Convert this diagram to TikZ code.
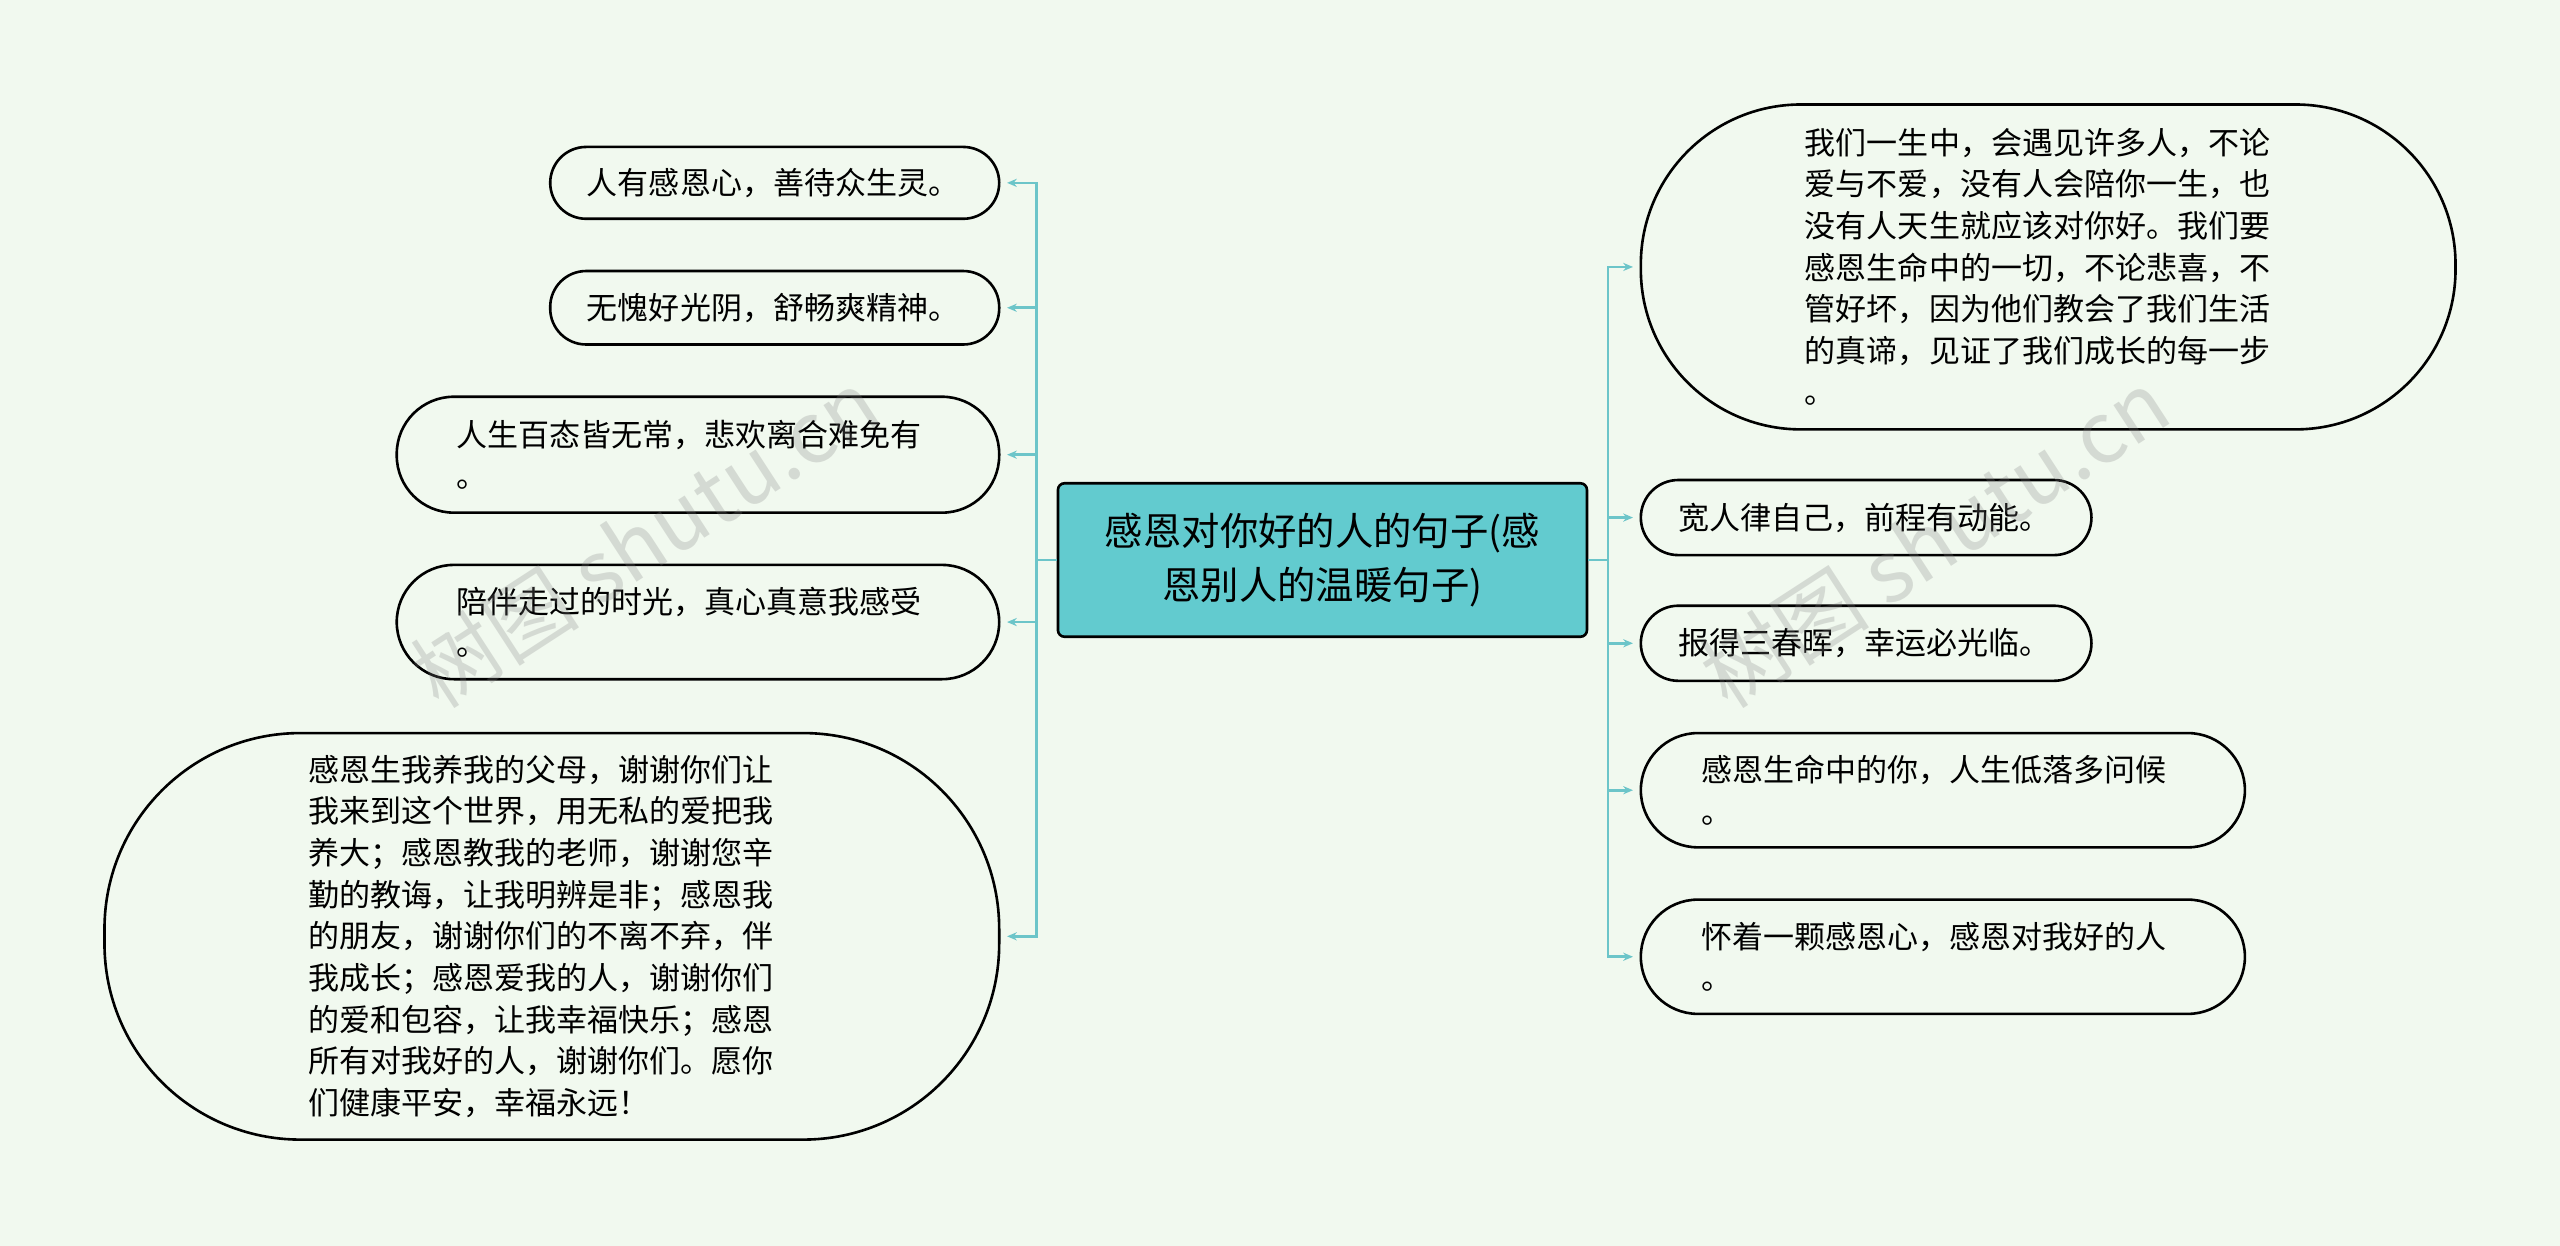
\documentclass[tikz,border=0pt]{standalone}
\usepackage{fontspec}
\setmainfont{Noto Sans CJK SC}
\usetikzlibrary{arrows.meta}
\definecolor{bg}{HTML}{F1F9EF}
\definecolor{edge}{HTML}{6CC5C9}
\definecolor{cfill}{HTML}{62CBCF}
\tikzset{
 leaf/.style={draw=black,line width=1.6pt,fill=bg,align=left,inner sep=0pt,font=\fontsize{19}{25.5}\selectfont},
 conn/.style={draw=edge,line width=1.6pt},
 arr/.style={conn,-{Stealth[length=6pt,width=5pt]}},
 wm/.style={text=gray,opacity=0.25,font=\fontsize{52}{52}\selectfont,rotate=33}
}
\begin{document}
\begin{tikzpicture}[x=1pt,y=-1pt]
\fill[bg] (0,0) rectangle (1568,763);
\useasboundingbox (0,0) rectangle (1568,763);
% center
\node[draw=black,line width=1.6pt,fill=cfill,rounded corners=4pt,minimum width=324,minimum height=94,align=center,font=\fontsize{23.5}{33}\selectfont] (c) at (810,343) {感恩对你好的人的句子(感\\恩别人的温暖句子)};
% left
\node[leaf,rounded corners=22pt,minimum width=275,minimum height=44] (l1) at (474.5,112) {\parbox{230pt}{人有感恩心，善待众生灵。}};
\node[leaf,rounded corners=22pt,minimum width=275,minimum height=45] (l2) at (474.5,188.5) {\parbox{230pt}{无愧好光阴，舒畅爽精神。}};
\node[leaf,rounded corners=35pt,minimum width=369,minimum height=71] (l3) at (427.5,278.5) {\parbox{296pt}{人生百态皆无常，悲欢离合难免有\\。}};
\node[leaf,rounded corners=35pt,minimum width=369,minimum height=70] (l4) at (427.5,381) {\parbox{296pt}{陪伴走过的时光，真心真意我感受\\。}};
\node[leaf,rounded corners=120pt,minimum width=548,minimum height=249] (l5) at (338,573.5) {\parbox{298pt}{感恩生我养我的父母，谢谢你们让\\我来到这个世界，用无私的爱把我\\养大；感恩教我的老师，谢谢您辛\\勤的教诲，让我明辨是非；感恩我\\的朋友，谢谢你们的不离不弃，伴\\我成长；感恩爱我的人，谢谢你们\\的爱和包容，让我幸福快乐；感恩\\所有对我好的人，谢谢你们。愿你\\们健康平安，幸福永远！}};
% right
\node[leaf,rounded corners=98pt,minimum width=499,minimum height=199] (r1) at (1254.5,163.5) {\parbox{298pt}{我们一生中，会遇见许多人，不论\\爱与不爱，没有人会陪你一生，也\\没有人天生就应该对你好。我们要\\感恩生命中的一切，不论悲喜，不\\管好坏，因为他们教会了我们生活\\的真谛，见证了我们成长的每一步\\。}};
\node[leaf,rounded corners=23pt,minimum width=276,minimum height=46] (r2) at (1143,317) {\parbox{230pt}{宽人律自己，前程有动能。}};
\node[leaf,rounded corners=23pt,minimum width=276,minimum height=46] (r3) at (1143,394) {\parbox{230pt}{报得三春晖，幸运必光临。}};
\node[leaf,rounded corners=35pt,minimum width=370,minimum height=70] (r4) at (1190,484) {\parbox{296pt}{感恩生命中的你，人生低落多问候\\。}};
\node[leaf,rounded corners=35pt,minimum width=370,minimum height=70] (r5) at (1190,586) {\parbox{296pt}{怀着一颗感恩心，感恩对我好的人\\。}};
% connectors
\coordinate (lt) at (635,343);
\coordinate (rt) at (985,343);
\draw[conn] (c.west) -- (lt);
\draw[conn] (c.east) -- (rt);
\foreach \n in {l1,l2,l3,l4,l5}{\draw[arr] (lt) |- ([xshift=4pt]\n.east);}
\foreach \n in {r1,r2,r3,r4,r5}{\draw[arr] (rt) |- ([xshift=-4pt]\n.west);}
% watermark
\node[wm] (w1) at (395,330) {树图 shutu.cn};
\node[wm] (w2) at (1185,330) {树图 shutu.cn};
\end{tikzpicture}
\end{document}
